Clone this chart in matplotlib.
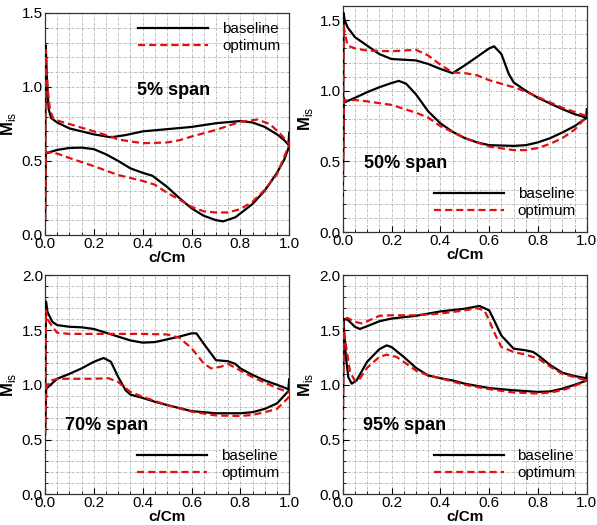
import numpy as np
import matplotlib
matplotlib.use('Agg')
import matplotlib.pyplot as plt
from matplotlib.ticker import MultipleLocator, FormatStrFormatter

plt.rcParams['font.family'] = ['Liberation Sans', 'DejaVu Sans']
plt.rcParams['mathtext.fontset'] = 'custom'
plt.rcParams['mathtext.rm'] = 'Liberation Sans'
plt.rcParams['mathtext.bf'] = 'Liberation Sans:bold'

# isentropic Mach number along chord, suction (ss) and pressure (ps) side
# ---- 5% span
s05_base_ss_x = [0, 0.003, 0.008, 0.015, 0.025, 0.05, 0.1, 0.15, 0.2, 0.27, 0.33, 0.4, 0.5, 0.6, 0.7, 0.8, 0.85, 0.9, 0.95, 0.98, 0.997, 1.0]
s05_base_ss_y = [0.1, 1.28, 1.05, 0.85, 0.79, 0.76, 0.72, 0.70, 0.68, 0.66, 0.675, 0.70, 0.715, 0.73, 0.755, 0.77, 0.76, 0.73, 0.68, 0.64, 0.61, 0.69]
s05_base_ps_x = [0, 0.003, 0.02, 0.05, 0.1, 0.15, 0.2, 0.25, 0.3, 0.35, 0.4, 0.44, 0.5, 0.55, 0.6, 0.65, 0.7, 0.73, 0.78, 0.85, 0.9, 0.95, 0.98, 1.0]
s05_base_ps_y = [0.1, 0.55, 0.56, 0.575, 0.588, 0.59, 0.58, 0.545, 0.50, 0.45, 0.42, 0.40, 0.325, 0.25, 0.18, 0.13, 0.10, 0.092, 0.12, 0.21, 0.30, 0.42, 0.51, 0.60]
s05_opt_ss_x = [0, 0.003, 0.01, 0.02, 0.035, 0.1, 0.2, 0.27, 0.3, 0.4, 0.5, 0.55, 0.6, 0.7, 0.8, 0.87, 0.92, 0.96, 1.0]
s05_opt_ss_y = [0.1, 1.25, 1.0, 0.85, 0.78, 0.75, 0.70, 0.665, 0.645, 0.62, 0.625, 0.64, 0.665, 0.71, 0.765, 0.78, 0.75, 0.69, 0.615]
s05_opt_ps_x = [0, 0.003, 0.05, 0.1, 0.2, 0.3, 0.4, 0.45, 0.5, 0.55, 0.6, 0.65, 0.7, 0.75, 0.8, 0.85, 0.9, 0.95, 1.0]
s05_opt_ps_y = [0.1, 0.56, 0.55, 0.52, 0.465, 0.405, 0.365, 0.34, 0.285, 0.24, 0.19, 0.16, 0.152, 0.152, 0.175, 0.225, 0.305, 0.41, 0.61]

# ---- 50% span
s50_base_ss_x = [0, 0.004, 0.008, 0.02, 0.05, 0.1, 0.15, 0.2, 0.25, 0.3, 0.35, 0.4, 0.45, 0.5, 0.55, 0.6, 0.62, 0.65, 0.68, 0.7, 0.75, 0.8, 0.9, 0.95, 0.997, 1.0]
s50_base_ss_y = [0.2, 1.55, 1.5, 1.45, 1.38, 1.32, 1.26, 1.225, 1.22, 1.215, 1.19, 1.155, 1.125, 1.18, 1.24, 1.30, 1.315, 1.26, 1.12, 1.06, 1.0, 0.95, 0.87, 0.835, 0.81, 0.87]
s50_base_ps_x = [0, 0.005, 0.01, 0.05, 0.1, 0.15, 0.2, 0.23, 0.26, 0.3, 0.35, 0.4, 0.45, 0.5, 0.55, 0.6, 0.7, 0.75, 0.8, 0.85, 0.9, 0.95, 1.0]
s50_base_ps_y = [0.2, 0.95, 0.92, 0.95, 0.99, 1.025, 1.055, 1.07, 1.05, 0.975, 0.855, 0.77, 0.71, 0.665, 0.635, 0.615, 0.61, 0.615, 0.635, 0.665, 0.705, 0.75, 0.81]
s50_opt_ss_x = [0, 0.004, 0.01, 0.02, 0.05, 0.1, 0.2, 0.3, 0.35, 0.4, 0.45, 0.5, 0.55, 0.6, 0.65, 0.7, 0.75, 0.8, 0.9, 1.0]
s50_opt_ss_y = [0.2, 1.46, 1.40, 1.32, 1.30, 1.285, 1.28, 1.29, 1.25, 1.185, 1.13, 1.125, 1.11, 1.075, 1.05, 1.025, 0.995, 0.955, 0.88, 0.82]
s50_opt_ps_x = [0, 0.005, 0.05, 0.1, 0.2, 0.3, 0.35, 0.4, 0.5, 0.6, 0.7, 0.75, 0.8, 0.85, 0.9, 0.95, 1.0]
s50_opt_ps_y = [0.2, 0.93, 0.935, 0.925, 0.90, 0.845, 0.81, 0.75, 0.665, 0.605, 0.58, 0.58, 0.595, 0.625, 0.665, 0.725, 0.82]

# ---- 70% span
s70_base_ss_x = [0, 0.004, 0.01, 0.03, 0.05, 0.1, 0.15, 0.2, 0.25, 0.3, 0.35, 0.4, 0.45, 0.5, 0.55, 0.6, 0.62, 0.65, 0.7, 0.75, 0.78, 0.8, 0.85, 0.9, 0.95, 0.997, 1.0]
s70_base_ss_y = [0.55, 1.76, 1.665, 1.575, 1.545, 1.53, 1.525, 1.51, 1.475, 1.44, 1.405, 1.385, 1.39, 1.415, 1.44, 1.47, 1.47, 1.375, 1.225, 1.215, 1.19, 1.15, 1.09, 1.04, 1.0, 0.96, 1.05]
s70_base_ps_x = [0, 0.005, 0.05, 0.1, 0.15, 0.2, 0.24, 0.27, 0.3, 0.33, 0.35, 0.4, 0.45, 0.5, 0.6, 0.7, 0.8, 0.85, 0.9, 0.95, 1.0]
s70_base_ps_y = [0.55, 0.965, 1.055, 1.10, 1.15, 1.21, 1.245, 1.21, 1.07, 0.95, 0.91, 0.88, 0.845, 0.815, 0.76, 0.74, 0.74, 0.75, 0.78, 0.83, 0.95]
s70_opt_ss_x = [0, 0.004, 0.01, 0.03, 0.05, 0.1, 0.2, 0.3, 0.4, 0.5, 0.55, 0.6, 0.65, 0.68, 0.72, 0.75, 0.8, 0.85, 0.9, 0.95, 1.0]
s70_opt_ss_y = [0.55, 1.68, 1.6, 1.53, 1.475, 1.465, 1.465, 1.465, 1.465, 1.46, 1.43, 1.335, 1.195, 1.15, 1.165, 1.19, 1.13, 1.07, 1.02, 0.97, 0.93]
s70_opt_ps_x = [0, 0.005, 0.02, 0.05, 0.1, 0.2, 0.26, 0.3, 0.35, 0.4, 0.5, 0.6, 0.7, 0.8, 0.85, 0.9, 0.95, 1.0]
s70_opt_ps_y = [0.55, 0.97, 1.035, 1.055, 1.055, 1.055, 1.06, 1.025, 0.935, 0.89, 0.815, 0.755, 0.72, 0.715, 0.725, 0.75, 0.78, 0.89]

# ---- 95% span
s95_base_ss_x = [0, 0.003, 0.02, 0.05, 0.07, 0.1, 0.15, 0.2, 0.3, 0.4, 0.5, 0.56, 0.6, 0.62, 0.65, 0.7, 0.75, 0.78, 0.8, 0.85, 0.9, 0.95, 0.997, 1.0]
s95_base_ss_y = [0.4, 1.6, 1.595, 1.53, 1.51, 1.535, 1.58, 1.605, 1.63, 1.67, 1.695, 1.72, 1.68, 1.59, 1.45, 1.33, 1.315, 1.30, 1.27, 1.18, 1.11, 1.08, 1.06, 1.1]
s95_base_ps_x = [0, 0.003, 0.005, 0.013, 0.023, 0.037, 0.057, 0.1, 0.15, 0.18, 0.2, 0.25, 0.3, 0.35, 0.4, 0.45, 0.5, 0.6, 0.7, 0.8, 0.85, 0.9, 0.95, 1.0]
s95_base_ps_y = [0.4, 1.6, 1.52, 1.26, 1.07, 1.01, 1.04, 1.21, 1.325, 1.36, 1.345, 1.255, 1.155, 1.085, 1.06, 1.04, 1.01, 0.97, 0.95, 0.935, 0.94, 0.965, 1.0, 1.04]
s95_opt_ss_x = [0, 0.003, 0.02, 0.05, 0.08, 0.1, 0.15, 0.2, 0.3, 0.4, 0.5, 0.55, 0.58, 0.6, 0.62, 0.65, 0.7, 0.75, 0.8, 0.85, 0.9, 0.95, 1.0]
s95_opt_ss_y = [0.4, 1.6, 1.61, 1.575, 1.56, 1.58, 1.63, 1.635, 1.635, 1.65, 1.68, 1.70, 1.68, 1.59, 1.48, 1.345, 1.30, 1.275, 1.24, 1.165, 1.10, 1.07, 1.04]
s95_opt_ps_x = [0, 0.004, 0.01, 0.03, 0.05, 0.07, 0.1, 0.15, 0.18, 0.22, 0.25, 0.3, 0.35, 0.4, 0.5, 0.6, 0.7, 0.8, 0.85, 0.9, 0.95, 1.0]
s95_opt_ps_y = [0.4, 1.5, 1.41, 1.12, 1.035, 1.055, 1.155, 1.255, 1.275, 1.255, 1.21, 1.13, 1.085, 1.06, 1.0, 0.96, 0.93, 0.92, 0.93, 0.95, 0.99, 1.04]

red = '#e01010'

fig = plt.figure(figsize=(5.97, 5.25), dpi=100)

panels = [
    # axes rect, ylim, last ytick, span text, text pos, legend anchor, curves
    ([0.0754, 0.5524, 0.409, 0.4229], 1.5, 1.5, '5% span', (0.377, 0.653), (0.381, 0.890),
     (s05_base_ss_x, s05_base_ss_y, s05_base_ps_x, s05_base_ps_y,
      s05_opt_ss_x, s05_opt_ss_y, s05_opt_ps_x, s05_opt_ps_y)),
    ([0.574, 0.558, 0.409, 0.4305], 1.6, 1.5, '50% span', (0.087, 0.305), (0.373, 0.130),
     (s50_base_ss_x, s50_base_ss_y, s50_base_ps_x, s50_base_ps_y,
      s50_opt_ss_x, s50_opt_ss_y, s50_opt_ps_x, s50_opt_ps_y)),
    ([0.0754, 0.0585, 0.409, 0.4171], 2.0, 2.0, '70% span', (0.082, 0.316), (0.377, 0.135),
     (s70_base_ss_x, s70_base_ss_y, s70_base_ps_x, s70_base_ps_y,
      s70_opt_ss_x, s70_opt_ss_y, s70_opt_ps_x, s70_opt_ps_y)),
    ([0.574, 0.0585, 0.409, 0.4171], 2.0, 2.0, '95% span', (0.083, 0.316), (0.372, 0.135),
     (s95_base_ss_x, s95_base_ss_y, s95_base_ps_x, s95_base_ps_y,
      s95_opt_ss_x, s95_opt_ss_y, s95_opt_ps_x, s95_opt_ps_y)),
]

for rect, ymax, ytop, span, tpos, lpos, c in panels:
    ax = fig.add_axes(rect)
    bx1, by1, bx2, by2, ox1, oy1, ox2, oy2 = c
    ax.plot(bx1, by1, color='k', lw=1.6, label='baseline', zorder=3)
    ax.plot(bx2, by2, color='k', lw=1.6, zorder=3)
    ax.plot(ox1, oy1, color=red, lw=1.6, ls=(0, (3.2, 1.8)), label='optimum', zorder=4)
    ax.plot(ox2, oy2, color=red, lw=1.6, ls=(0, (3.2, 1.8)), zorder=4)

    ax.set_xlim(0, 1)
    ax.set_ylim(0, ymax)
    ax.xaxis.set_major_locator(MultipleLocator(0.2))
    ax.xaxis.set_minor_locator(MultipleLocator(0.05))
    ax.set_yticks(np.arange(0, ytop + 0.01, 0.5))
    ax.yaxis.set_minor_locator(MultipleLocator(0.1))
    ax.xaxis.set_major_formatter(FormatStrFormatter('%.1f'))
    ax.yaxis.set_major_formatter(FormatStrFormatter('%.1f'))
    ax.tick_params(which='both', direction='in', labelsize=11, pad=1.5)
    ax.tick_params(which='major', length=4)
    ax.tick_params(which='minor', length=2)
    ax.grid(which='both', color='#a5a5a5', ls=(0, (2.5, 1.5, 0.8, 1.5)), lw=0.6)
    ax.set_axisbelow(True)
    for sp in ax.spines.values():
        sp.set_linewidth(0.9)
        sp.set_color('#333333')

    ax.set_xlabel('c/Cm', fontsize=11, fontweight='bold', labelpad=0)
    ax.set_ylabel(r'$\mathbf{M}_{\rm is}$', fontsize=12, labelpad=3)
    ax.text(tpos[0], tpos[1], span, transform=ax.transAxes, fontsize=13,
            fontweight='bold', va='center', ha='left')
    ax.legend(loc='center left', bbox_to_anchor=lpos, frameon=False, fontsize=11,
              borderpad=0, borderaxespad=0, handlelength=4.6, handletextpad=0.9,
              labelspacing=0.2)

fig.savefig('out.png', dpi=100)
